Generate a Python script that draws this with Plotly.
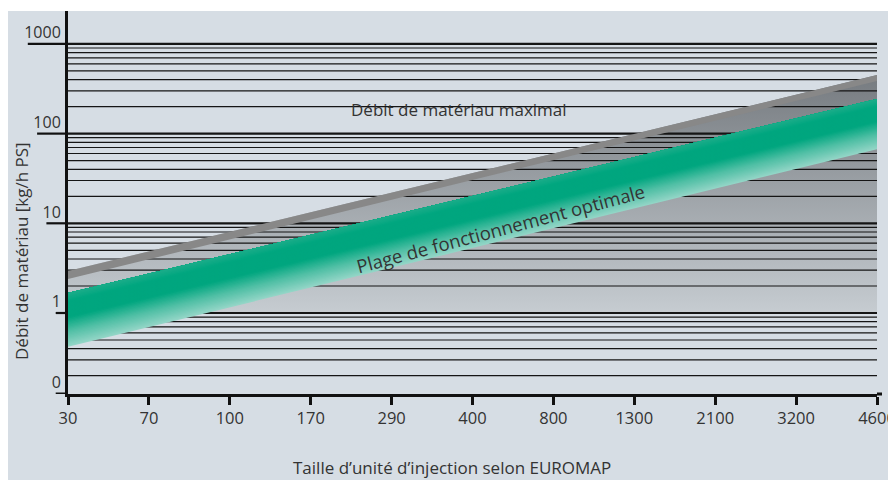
import numpy as np
import plotly.graph_objects as go

# ---------------- data ----------------
categories = ["30", "70", "100", "170", "290", "400", "800", "1300", "2100", "3200", "4600"]
ytick_vals = [0.125, 1, 10, 100, 1000]
ytick_text = ["0", "1", "10", "100", "1000"]
minor_vals = [0.2, 0.3, 0.4, 0.5, 0.6, 0.7, 0.8, 0.9,
              2, 3, 4, 5, 6, 7, 8, 9,
              20, 30, 40, 50, 60, 70, 80, 90,
              200, 300, 400, 500, 600, 700, 800, 900]
major_vals = [1, 10, 100, 1000]

# band edges at the first and last injection-unit size
max_upper = [2.94, 450]   # "Débit de matériau maximal" stripe, upper edge
max_lower = [2.39, 386]   # stripe, lower edge
opt_upper = [1.67, 243]   # optimal operating range, upper edge
opt_lower = [0.42, 67]    # optimal operating range, lower edge
region_floor = [1, 1]     # grey region lower bound

# ---------------- style ----------------
BG = "#d6dde4"
FONT = "Open Sans"
FS = 17
TXT = "#333333"
ends = [categories[0], categories[-1]]

fig = go.Figure()

# grey region under the maximum line (vertical gradient)
fig.add_trace(go.Scatter(
    x=[ends[0], ends[0], ends[1], ends[1]],
    y=[region_floor[0], max_upper[0], max_upper[1], region_floor[1]],
    fill="toself", mode="lines", line=dict(width=0),
    fillgradient=dict(type="vertical",
                      colorscale=[[0, "#c6ccd1"], [1, "#767b80"]]),
    hoverinfo="skip", showlegend=False))

# grid lines (drawn above the grey region, below the bands)
def hlines(vals):
    xs, ys = [], []
    for v in vals:
        xs += [ends[0], ends[1], None]
        ys += [v, v, None]
    return xs, ys

mx, my = hlines(minor_vals)
fig.add_trace(go.Scatter(x=mx, y=my, mode="lines",
                         line=dict(color="#151515", width=1.2),
                         hoverinfo="skip", showlegend=False))
Mx, My = hlines(major_vals)
fig.add_trace(go.Scatter(x=Mx, y=My, mode="lines",
                         line=dict(color="#151515", width=2.2),
                         hoverinfo="skip", showlegend=False))

# maximal throughput stripe
fig.add_trace(go.Scatter(
    x=[ends[0], ends[1], ends[1], ends[0]],
    y=[max_upper[0], max_upper[1], max_lower[1], max_lower[0]],
    fill="toself", mode="lines", line=dict(width=0),
    fillcolor="#888888", hoverinfo="skip", showlegend=False))

# optimal range band with a gradient across its width
stops = [(0.0, (0x1c, 0xad, 0x8a)), (0.15, (0x00, 0xa6, 0x7f)),
         (0.45, (0x00, 0xa6, 0x7f)), (0.72, (0x52, 0xc0, 0xa6)),
         (1.0, (0x95, 0xd6, 0xc7))]

def col_at(t):
    for (t0, c0), (t1, c1) in zip(stops[:-1], stops[1:]):
        if t <= t1:
            a = (t - t0) / (t1 - t0) if t1 > t0 else 0
            c = [round(c0[k] + a * (c1[k] - c0[k])) for k in range(3)]
            return "rgb(%d,%d,%d)" % tuple(c)
    return "rgb(%d,%d,%d)" % stops[-1][1]

N = 40
lt = np.log10(opt_upper)
lb = np.log10(opt_lower)
for i in reversed(range(N)):
    f = (i + 1) / N
    b = 10 ** (lt + f * (lb - lt))
    fig.add_trace(go.Scatter(
        x=[ends[0], ends[1], ends[1], ends[0]],
        y=[opt_upper[0], opt_upper[1], b[1], b[0]],
        fill="toself", mode="lines", line=dict(width=0),
        fillcolor=col_at((i + 0.5) / N), hoverinfo="skip", showlegend=False))

# ---------------- layout ----------------
# the page body has an 8px margin, so the figure is 8px smaller
PW = 809.0  # plot width in px
PH = 383.0  # plot height in px
shapes = [
    dict(type="rect", xref="paper", yref="paper", layer="below",
         x0=-61 / PW, x1=828 / PW, y0=-86 / PH, y1=1.0,
         fillcolor=BG, line=dict(width=0)),
    dict(type="line", xref="paper", yref="paper", x0=1.0, x1=1.0 + 5 / PW,
         y0=0, y1=0, line=dict(color="#111", width=3)),
]
for v, t in zip(ytick_vals, ytick_text):
    w = len(t) * 9.3 + 3
    shapes.append(dict(type="line", xref="paper", yref="y",
                       x0=-w / PW, x1=0, y0=v, y1=v,
                       line=dict(color="#111", width=3 if v == ytick_vals[0] else 2.2)))

fig.update_layout(
    width=888, height=472,
    margin=dict(l=60, r=19, t=3, b=86, autoexpand=False),
    paper_bgcolor="white", plot_bgcolor="rgba(0,0,0,0)",
    font=dict(family=FONT, size=FS, color=TXT),
    shapes=shapes,
    xaxis=dict(type="category", categoryorder="array", categoryarray=categories,
               range=[0, len(categories) - 1], automargin=False,
               showgrid=False, zeroline=False,
               showline=True, linecolor="#111", linewidth=3,
               ticks="outside", ticklen=8, tickwidth=2.5, tickcolor="#111",
               ticklabelstandoff=-1,
               tickfont=dict(size=16.5, color=TXT)),
    yaxis=dict(type="log", range=[np.log10(ytick_vals[0]), 3.367], automargin=False,
               tickmode="array", tickvals=ytick_vals, ticktext=ytick_text,
               showgrid=False, zeroline=False,
               showline=True, linecolor="#111", linewidth=3,
               ticks="", ticklabelposition="outside top", ticklabelstandoff=1,
               tickfont=dict(size=16, color=TXT)),
    annotations=[
        dict(text="Débit de matériau maximal", xref="paper", yref="paper",
             x=(459 - 68) / PW, y=(394 - 110) / PH, showarrow=False,
             xanchor="center", yanchor="middle", font=dict(size=FS, color=TXT)),
        dict(text="Plage de fonctionnement optimale", xref="paper", yref="paper",
             x=(500 - 68) / PW, y=(394 - 229) / PH, showarrow=False,
             xanchor="center", yanchor="middle",
             textangle=-14.8, font=dict(size=18.5, color=TXT)),
        dict(text="Taille d’unité d’injection selon EUROMAP", xref="paper", yref="paper",
             x=(452 - 68) / PW, y=(394 - 467) / PH, showarrow=False,
             xanchor="center", yanchor="middle", font=dict(size=FS, color=TXT)),
        dict(text="Débit de matériau [kg/h PS]", xref="paper", yref="paper",
             x=(21 - 68) / PW, y=(394 - 251) / PH, showarrow=False,
             xanchor="center", yanchor="middle",
             textangle=-90, font=dict(size=FS, color=TXT)),
    ],
)

fig.write_html("out.html")
